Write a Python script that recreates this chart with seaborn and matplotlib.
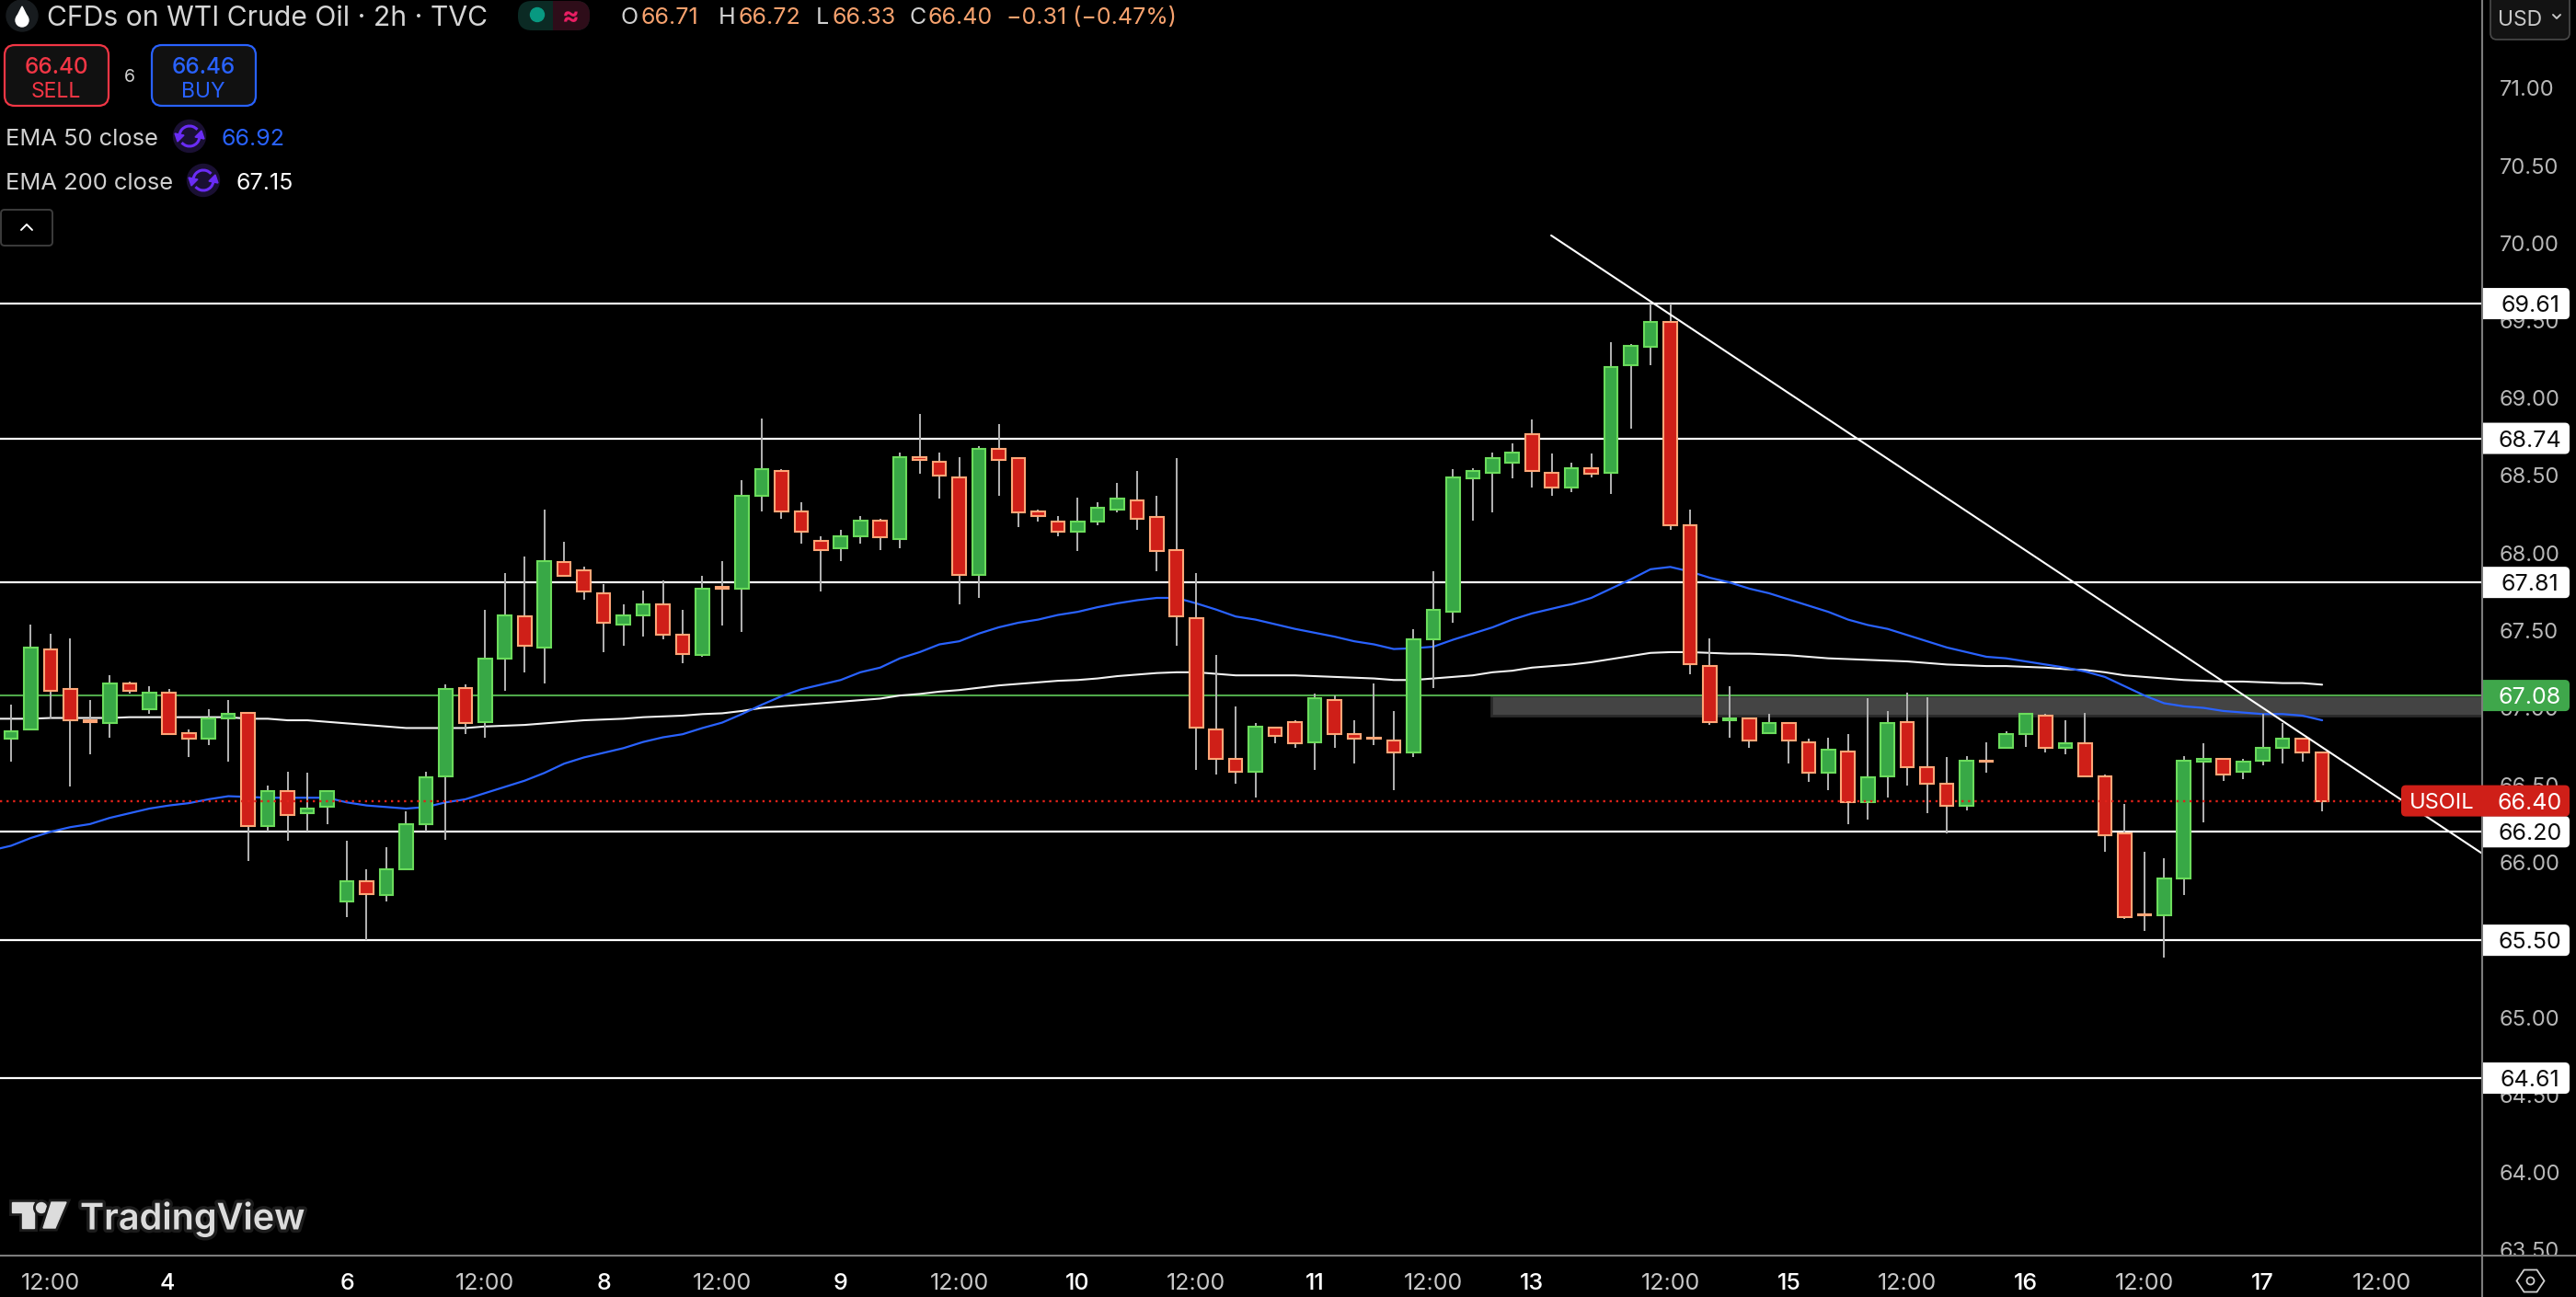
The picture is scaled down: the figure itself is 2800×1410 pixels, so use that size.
import numpy as np
import pandas as pd
import matplotlib
matplotlib.use("Agg")
import matplotlib.pyplot as plt
import matplotlib.patheffects as pe
from matplotlib.patches import Rectangle, FancyBboxPatch, Circle, Polygon, Arc
import seaborn as sns

opens = [66.80,66.86,67.38,67.12,66.92,66.90,67.16,66.99,67.10,66.84,
         66.80,66.93,66.97,66.24,66.46,66.32,66.36,65.75,65.88,65.79,
         65.96,66.25,66.56,67.13,66.91,67.32,67.59,67.39,67.94,67.89,
         67.74,67.54,67.60,67.67,67.47,67.34,67.78,67.77,68.37,68.53,
         68.27,68.08,68.03,68.11,68.21,68.09,68.62,68.59,68.49,67.86,
         68.67,68.61,68.27,68.20,68.14,68.20,68.28,68.34,68.23,68.02,
         67.58,66.86,66.67,66.59,66.87,66.91,66.78,67.05,66.83,66.81,
         66.79,66.71,67.44,67.62,68.48,68.52,68.58,68.77,68.52,68.42,
         68.55,68.52,69.21,69.33,69.49,68.18,67.27,66.92,66.93,66.84,
         66.90,66.78,66.58,66.72,66.39,66.56,66.91,66.62,66.51,66.37,
         66.66,66.74,66.83,66.95,66.74,66.77,66.56,66.19,65.67,65.66,
         65.90,66.65,66.67,66.59,66.66,66.74,66.80,66.71]
highs = [67.02,67.54,67.48,67.45,67.05,67.21,67.17,67.14,67.12,66.86,
         66.99,67.05,66.97,66.50,66.59,66.58,66.47,66.14,65.96,66.10,
         66.33,66.59,67.15,67.15,67.63,67.87,67.98,68.28,68.07,67.91,
         67.80,67.67,67.76,67.82,67.63,67.85,67.95,68.47,68.87,68.54,
         68.33,68.11,68.15,68.24,68.22,68.65,68.90,68.65,68.62,68.69,
         68.83,68.61,68.28,68.24,68.36,68.33,68.45,68.53,68.37,68.61,
         67.87,67.34,67.01,66.90,66.88,66.92,67.09,67.08,66.92,67.16,
         66.98,67.51,67.88,68.54,68.55,68.65,68.71,68.86,68.64,68.58,
         68.64,69.36,69.35,69.61,69.61,68.28,67.45,67.14,66.93,66.96,
         66.90,66.80,66.81,66.83,67.06,66.98,67.10,67.07,66.68,66.69,
         66.78,66.85,66.96,66.96,66.92,66.97,66.57,66.38,66.07,66.03,
         66.69,66.77,66.67,66.67,66.96,66.90,66.80,66.72]
lows = [66.65,66.86,66.93,66.49,66.70,66.81,67.09,66.96,66.83,66.68,
        66.76,66.65,66.01,66.20,66.14,66.20,66.25,65.65,65.50,65.75,
        65.95,66.20,66.15,66.83,66.81,67.11,67.23,67.16,67.85,67.70,
        67.36,67.40,67.46,67.44,67.29,67.33,67.53,67.49,68.27,68.22,
        68.06,67.75,67.95,68.06,68.02,68.03,68.51,68.35,67.67,67.71,
        68.37,68.17,68.20,68.11,68.01,68.18,68.26,68.15,67.88,67.40,
        66.60,66.57,66.51,66.42,66.77,66.74,66.60,66.74,66.64,66.76,
        66.47,66.68,67.13,67.55,68.21,68.26,68.48,68.42,68.37,68.39,
        68.49,68.38,68.80,69.21,68.15,67.22,66.89,66.81,66.74,66.84,
        66.64,66.52,66.47,66.25,66.28,66.42,66.50,66.32,66.19,66.34,
        66.58,66.74,66.75,66.71,66.70,66.56,66.07,65.64,65.56,65.39,
        65.79,66.26,66.53,66.54,66.63,66.64,66.65,66.33]
closes = [66.85,67.39,67.11,66.92,66.91,67.16,67.11,67.10,66.83,66.80,
          66.93,66.96,66.24,66.46,66.31,66.35,66.46,65.88,65.80,65.96,
          66.25,66.55,67.12,66.90,67.32,67.60,67.40,67.95,67.85,67.75,
          67.55,67.60,67.67,67.47,67.35,67.77,67.77,68.37,68.54,68.27,
          68.14,68.02,68.11,68.21,68.10,68.62,68.60,68.50,67.86,68.67,
          68.60,68.26,68.24,68.14,68.20,68.29,68.35,68.22,68.01,67.59,
          66.87,66.67,66.59,66.88,66.82,66.77,67.06,66.83,66.80,66.80,
          66.71,67.44,67.63,68.49,68.53,68.61,68.65,68.53,68.42,68.55,
          68.51,69.20,69.34,69.49,68.18,67.28,66.91,66.93,66.79,66.90,
          66.79,66.58,66.73,66.39,66.55,66.90,66.62,66.51,66.37,66.66,
          66.65,66.83,66.96,66.74,66.77,66.56,66.18,65.65,65.66,65.90,
          66.66,66.67,66.57,66.65,66.74,66.80,66.71,66.40]

ema50 = [66.08,
         66.11,66.16,66.20,66.23,66.25,66.29,66.32,66.35,66.37,66.385,
         66.41,66.43,66.425,66.42,66.42,66.42,66.42,66.39,66.37,66.36,
         66.35,66.36,66.39,66.41,66.45,66.49,66.53,66.58,66.64,66.68,
         66.71,66.74,66.78,66.81,66.83,66.87,66.905,66.96,67.02,67.075,
         67.12,67.15,67.18,67.23,67.26,67.32,67.36,67.41,67.43,67.48,
         67.52,67.55,67.57,67.60,67.62,67.65,67.675,67.695,67.71,67.71,
         67.675,67.635,67.59,67.57,67.54,67.51,67.485,67.46,67.43,67.41,
         67.38,67.385,67.395,67.44,67.48,67.52,67.57,67.61,67.64,67.67,
         67.71,67.77,67.83,67.895,67.91,67.88,67.84,67.81,67.77,67.74,
         67.70,67.66,67.62,67.57,67.535,67.51,67.47,67.43,67.39,67.36,
         67.33,67.32,67.30,67.28,67.26,67.235,67.20,67.14,67.08,67.03,
         67.01,67.00,66.98,66.97,66.96,66.96,66.95,66.92]
ema200 = [66.93,
          66.93,66.93,66.935,66.935,66.935,66.935,66.94,66.94,66.94,66.94,
          66.94,66.94,66.93,66.93,66.92,66.92,66.91,66.90,66.89,66.88,
          66.87,66.87,66.87,66.87,66.88,66.885,66.89,66.90,66.91,66.92,
          66.925,66.93,66.94,66.945,66.95,66.96,66.965,66.98,67.00,67.01,
          67.02,67.03,67.04,67.05,67.06,67.08,67.09,67.105,67.115,67.13,
          67.145,67.155,67.165,67.175,67.18,67.19,67.205,67.215,67.225,67.23,
          67.23,67.22,67.21,67.21,67.21,67.21,67.205,67.20,67.195,67.19,
          67.18,67.18,67.19,67.20,67.21,67.23,67.24,67.26,67.27,67.28,
          67.295,67.315,67.335,67.355,67.36,67.36,67.355,67.35,67.35,67.345,
          67.34,67.33,67.32,67.315,67.31,67.305,67.30,67.29,67.28,67.275,
          67.27,67.27,67.265,67.26,67.25,67.245,67.23,67.21,67.20,67.19,
          67.18,67.175,67.17,67.17,67.165,67.16,67.16,67.15]

levels = [69.61, 68.74, 67.81, 66.20, 65.50, 64.61]
level_labels = ["69.61", "68.74", "67.81", "66.20", "65.50", "64.61"]
green_level = 67.08
last_price = 66.40
zone_low, zone_high, zone_start = 66.95, 67.08, 74.94
trend_x = [77.97, 125.1]
trend_y = [70.05, 66.06]
price_ticks = [63.5, 64.0, 64.5, 65.0, 65.5, 66.0, 66.5, 67.0, 67.5, 68.0,
               68.5, 69.0, 69.5, 70.0, 70.5, 71.0]
time_positions = [2, 7.9, 17, 24, 30, 36, 42, 48, 54, 60, 66, 72, 77, 84, 90, 96, 102, 108, 114, 120]
time_labels = ["12:00", "4", "6", "12:00", "8", "12:00", "9", "12:00", "10", "12:00",
               "11", "12:00", "13", "12:00", "15", "12:00", "16", "12:00", "17", "12:00"]

sns.set_theme(style="dark", rc={"axes.facecolor": "black", "figure.facecolor": "black"})
plt.rcParams["font.family"] = ["Inter", "DejaVu Sans"]

UP_FILL, UP_EDGE = "#38a846", "#6bdc5c"
DN_FILL, DN_EDGE = "#cf1f18", "#ffa677"
WICK = "#b4b4b4"
GRID = "#7c7c7c"
TICK = "#b8b8b8"
ORANGE = "#f7a26e"
BLUE = "#2962ff"
RED = "#f23645"

fig = plt.figure(figsize=(28, 14.1), dpi=100)
ax = fig.add_axes([0, 45 / 1410, 2698 / 2800, 1365 / 1410])
ax.set_facecolor("black")

df = pd.DataFrame({"i": np.arange(len(closes)), "o": opens, "h": highs, "l": lows, "c": closes})
df["up"] = df.c >= df.o
ema = pd.DataFrame({"i": np.arange(-1, len(ema50) - 1), "e50": ema50, "e200": ema200})

for lv in levels:
    ax.axhline(lv, color="white", lw=1.6, zorder=2)
ax.axhline(green_level, color="#4fa84a", lw=1.5, zorder=2)
ax.add_patch(Rectangle((zone_start, zone_low), 130 - zone_start, zone_high - zone_low,
                       facecolor="#444444", edgecolor="#2a2a2a", lw=2, zorder=1.5))

sns.lineplot(data=ema, x="i", y="e200", ax=ax, color="#f2f2f2", lw=1.5, zorder=3, legend=False, errorbar=None)
sns.lineplot(data=ema, x="i", y="e50", ax=ax, color=BLUE, lw=1.6, zorder=3, legend=False, errorbar=None)

ax.vlines(df.i, df.l, df.h, color=WICK, lw=1.4, zorder=4)
bottoms = np.minimum(df.o, df.c)
heights = np.abs(df.c - df.o)
ax.bar(df.i, heights, bottom=bottoms, width=0.68,
       color=[UP_FILL if u else DN_FILL for u in df.up],
       edgecolor=[UP_EDGE if u else DN_EDGE for u in df.up], linewidth=1.5, zorder=5)

ax.plot(trend_x, trend_y, color="white", lw=1.5, zorder=6)
ax.axhline(last_price, color="#e0221a", lw=1.7, ls=(0, (1.0, 2.0)), zorder=6)

ax.set_xlim(-0.559, 125.1)
ax.set_ylim(63.464, 71.57)
ax.grid(False)
ax.set_xlabel("")
ax.set_ylabel("")
for s in ax.spines.values():
    s.set_visible(False)
ax.yaxis.tick_right()
ax.set_yticks(price_ticks)
ax.set_yticklabels([f"{p:.2f}" for p in price_ticks], color=TICK, fontsize=17)
ax.tick_params(axis="y", length=0, pad=13.5)
ax.set_xticks(time_positions)
ax.tick_params(axis="x", length=0, pad=13.5)

# interface layer, in pixels of the picture
ui = fig.add_axes([0, 0, 1, 1], facecolor="none", zorder=10)
ui.set_xlim(0, 2800)
ui.set_ylim(1410, 0)
ui.axis("off")


def T(x, y, s, color="#d8d8d8", size=16.5, ha="left", weight="normal", **kw):
    return ui.text(x, y, s, color=color, fontsize=size, ha=ha, va="center_baseline", fontweight=weight, **kw)


def px(p):
    return 1410 - ax.transData.transform((0, p))[1]


ui.add_patch(Rectangle((0, 1366), 2800, 44, color="black", zorder=1))
for pos, txt in zip(time_positions, time_labels):
    xp = ax.transData.transform((pos, 0))[0]
    T(xp, 1393, txt, color="white" if ":" not in txt else "#c8c8c8", size=18, ha="center",
      weight="medium" if ":" not in txt else "normal", zorder=3)
ax.set_xticklabels([])
ui.plot([0, 2800], [1365, 1365], color=GRID, lw=1.5, zorder=2)
ui.plot([2698, 2698], [0, 1410], color=GRID, lw=1.5, zorder=2)

# price flags
axis_clip = Rectangle((2699, 0), 101, 1410, transform=ui.transData)
for lv, lab in zip(levels, level_labels):
    y = px(lv)
    b = FancyBboxPatch((2680, y - 17), 113, 34, boxstyle="round,pad=0,rounding_size=5",
                       facecolor="white", edgecolor="none", zorder=4)
    ui.add_patch(b)
    b.set_clip_path(axis_clip)
    T(2750, y, lab, color="#0c0c0c", size=18, ha="center", zorder=5)
y = px(green_level)
b = FancyBboxPatch((2680, y - 17), 113, 34, boxstyle="round,pad=0,rounding_size=5",
                   facecolor="#3fa74b", edgecolor="none", zorder=4)
ui.add_patch(b)
b.set_clip_path(axis_clip)
T(2750, y, "67.08", color="white", size=18, ha="center", zorder=5)
y = px(last_price)
ui.add_patch(FancyBboxPatch((2610, y - 17), 183, 34, boxstyle="round,pad=0,rounding_size=5",
                            facecolor="#cf1f18", edgecolor="none", zorder=4))
T(2654, y, "USOIL", color="white", size=17, ha="center", zorder=5)
T(2750, y, "66.40", color="white", size=18, ha="center", zorder=5)

# USD selector
ui.add_patch(FancyBboxPatch((2707, -12), 86, 55, boxstyle="round,pad=0,rounding_size=7",
                            facecolor="#131313", edgecolor="#4a4a4a", lw=1.2, zorder=4))
T(2739, 19, "USD", color="#c8c8c8", size=16.5, ha="center", zorder=5)
ui.plot([2775, 2779, 2783], [16, 20, 16], color="#c8c8c8", lw=1.4, zorder=5)

# header
ui.add_patch(Circle((24, 17), 17, color="#171b1e"))
ui.add_patch(Circle((24, 22), 7, color="white", zorder=3))
ui.add_patch(Polygon([(24, 7), (18, 19), (30, 19)], color="white", zorder=3))
T(51, 17, "CFDs on WTI Crude Oil · 2h · TVC", color="#d6d6d6", size=21.7)
pill = FancyBboxPatch((563, 1), 78, 32, boxstyle="round,pad=0,rounding_size=15", facecolor="#0b2a24", edgecolor="none")
ui.add_patch(pill)
rt = Rectangle((601, 0), 42, 34, facecolor="#2e0d19", edgecolor="none")
ui.add_patch(rt)
rt.set_clip_path(pill)
ui.add_patch(Circle((584, 16), 7.5, color="#089981", zorder=3))
T(620, 16, "≈", color="#e91e63", size=20, ha="center", zorder=3, weight="bold")
for x, s, c in [(674, "O", "#d0d0d0"), (696, "66.71", ORANGE), (781, "H", "#d0d0d0"), (802, "66.72", ORANGE),
                (887, "L", "#d0d0d0"), (904, "66.33", ORANGE), (988, "C", "#d0d0d0"), (1009, "66.40", ORANGE),
                (1094, "−0.31 (−0.47%)", ORANGE)]:
    T(x, 17, s, color=c, size=18)

# sell / buy
ui.add_patch(FancyBboxPatch((5, 49), 113, 66, boxstyle="round,pad=0,rounding_size=11",
                            facecolor="#111111", edgecolor=RED, lw=1.6))
T(61, 71, "66.40", color=RED, size=17.5, ha="center", weight="medium")
T(61, 98, "SELL", color=RED, size=16.5, ha="center")
T(141, 82, "6", color="#d0d0d0", size=14, ha="center")
ui.add_patch(FancyBboxPatch((165, 49), 113, 66, boxstyle="round,pad=0,rounding_size=11",
                            facecolor="#111111", edgecolor=BLUE, lw=1.6))
T(221, 71, "66.46", color=BLUE, size=17.5, ha="center", weight="medium")
T(221, 98, "BUY", color=BLUE, size=16.5, ha="center")


def refresh(cx, cy):
    ui.add_patch(Circle((cx, cy), 17.5, color="#1a1033"))
    ui.add_patch(Arc((cx, cy), 22, 22, theta1=190, theta2=320, color="#6a2cf5", lw=2.2, zorder=3))
    ui.add_patch(Arc((cx, cy), 22, 22, theta1=10, theta2=140, color="#6a2cf5", lw=2.2, zorder=3))
    ui.add_patch(Polygon([(cx + 13, cy - 6), (cx + 16, cy + 3), (cx + 6, cy + 1)], color="#6a2cf5", zorder=3))
    ui.add_patch(Polygon([(cx - 13, cy + 6), (cx - 16, cy - 3), (cx - 6, cy - 1)], color="#6a2cf5", zorder=3))


T(6, 149, "EMA 50 close", color="#d0d0d0", size=18.4)
refresh(206, 148)
T(240, 149, "66.92", color=BLUE, size=18)
T(6, 197, "EMA 200 close", color="#d0d0d0", size=18.4)
refresh(221, 196)
T(256, 197, "67.15", color="white", size=18)

ui.add_patch(FancyBboxPatch((1, 228), 56, 39, boxstyle="round,pad=0,rounding_size=4",
                            facecolor="black", edgecolor="#3c3c3c", lw=1.4))
ui.plot([23, 29, 35], [250, 244, 250], color="white", lw=1.4)

# watermark
LOGO = "#dcdcdc"
stroke = [pe.withStroke(linewidth=5, foreground="#1c1c1c")]
for patch in [Polygon([(13, 1307), (37, 1307), (37, 1335), (24, 1335), (24, 1318), (13, 1318)], color=LOGO),
              Circle((45, 1313), 5.5, color=LOGO),
              Polygon([(56, 1307), (72, 1307), (60, 1335), (47, 1335)], color=LOGO)]:
    patch.set_path_effects(stroke)
    ui.add_patch(patch)
T(87, 1321, "TradingView", color=LOGO, size=28.5, weight="semibold", path_effects=stroke)

# settings glyph
cx, cy = 2750.5, 1392.5
ui.add_patch(Polygon([(cx - 15, cy), (cx - 7, cy - 12), (cx + 7, cy - 12), (cx + 15, cy), (cx + 7, cy + 12), (cx - 7, cy + 12)],
                     facecolor="none", edgecolor="#d0d0d0", lw=1.3))
ui.add_patch(Circle((cx, cy), 4, facecolor="none", edgecolor="#d0d0d0", lw=1.3))

fig.savefig("out.png", dpi=100, facecolor="black")
